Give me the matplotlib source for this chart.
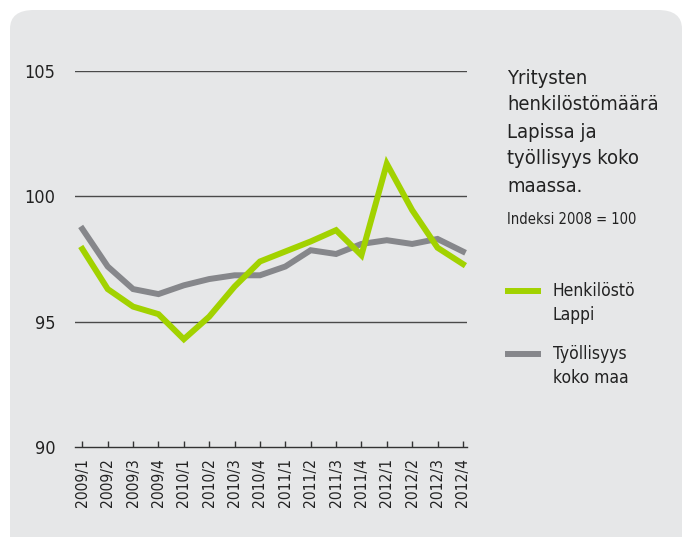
import matplotlib.pyplot as plt
from matplotlib.patches import FancyBboxPatch

quarters = ["2009/1", "2009/2", "2009/3", "2009/4",
            "2010/1", "2010/2", "2010/3", "2010/4",
            "2011/1", "2011/2", "2011/3", "2011/4",
            "2012/1", "2012/2", "2012/3", "2012/4"]

henkilosto_lappi = [97.9, 96.3, 95.6, 95.3, 94.3, 95.2, 96.4, 97.4,
                    97.8, 98.2, 98.65, 97.65, 101.3, 99.45, 97.95, 97.3]
tyollisyys_koko_maa = [98.7, 97.2, 96.3, 96.1, 96.45, 96.7, 96.85, 96.85,
                       97.2, 97.85, 97.7, 98.1, 98.25, 98.1, 98.3, 97.8]

yticks = [90, 95, 100, 105]

plt.rcParams["font.family"] = ["Liberation Sans Narrow", "DejaVu Sans"]
plt.rcParams["font.stretch"] = "condensed"

green = "#a2d200"
gray = "#86878b"
bg = "#e6e7e8"
txt = "#222222"

fig = plt.figure(figsize=(6.87, 5.37), dpi=100)
fig.patch.set_facecolor("white")

# rounded grey panel behind everything
panel = FancyBboxPatch((10 / 687, -0.05), 672 / 687, 1.05 - 10 / 537,
                       boxstyle="round,pad=0,rounding_size=0.035",
                       transform=fig.transFigure, facecolor=bg,
                       edgecolor="none", zorder=-10)
fig.patches.append(panel)

ax = fig.add_axes([75 / 687, 1 - 447 / 537, 391.7 / 687, 376 / 537])
ax.set_facecolor("none")

x = list(range(len(quarters)))
ax.plot(x, henkilosto_lappi, color=green, lw=4.3, solid_joinstyle="miter",
        clip_on=False, zorder=3)
ax.plot(x, tyollisyys_koko_maa, color=gray, lw=4.3, solid_joinstyle="miter",
        clip_on=False, zorder=2)

for y in yticks[1:]:
    ax.axhline(y, color="#4a4a4a", lw=1.0, zorder=1)

ax.set_ylim(90, 105)
ax.set_xlim(-0.29, 15.15)
ax.set_yticks(yticks)
ax.set_yticklabels([str(v) for v in yticks], fontsize=13, color=txt)
ax.set_xticks(x)
ax.set_xticklabels(quarters, rotation=90, fontsize=11.2, color=txt)

for s in ["top", "right", "left"]:
    ax.spines[s].set_visible(False)
ax.spines["bottom"].set_color("#333333")
ax.spines["bottom"].set_linewidth(1.0)
ax.tick_params(axis="y", length=0, pad=14)
ax.tick_params(axis="x", direction="in", length=4, width=1, color="#333333", pad=8)

# title block on the right
title_lines = ["Yritysten", "henkilöstömäärä", "Lapissa ja", "työllisyys koko", "maassa."]
for i, t in enumerate(title_lines):
    fig.text(507 / 687, 1 - (78 + i * 27) / 537, t, fontsize=14.5,
             color=txt, va="center", ha="left")
fig.text(507 / 687, 1 - 219 / 537, "Indeksi 2008 = 100", fontsize=10.5,
         color=txt, va="center", ha="left")

# legend drawn by hand
legend_items = [("Henkilöstö\nLappi", green, 291), ("Työllisyys\nkoko maa", gray, 354)]
for label, c, ypx in legend_items:
    fig.lines.append(plt.Line2D([508 / 687, 538 / 687], [1 - ypx / 537] * 2,
                                transform=fig.transFigure, color=c, lw=4.3))
    fig.text(553 / 687, 1 - (ypx - 9) / 537, label, fontsize=12.5,
             color=txt, va="top", ha="left", linespacing=1.45)

fig.savefig("out.png", dpi=100, facecolor="white")
